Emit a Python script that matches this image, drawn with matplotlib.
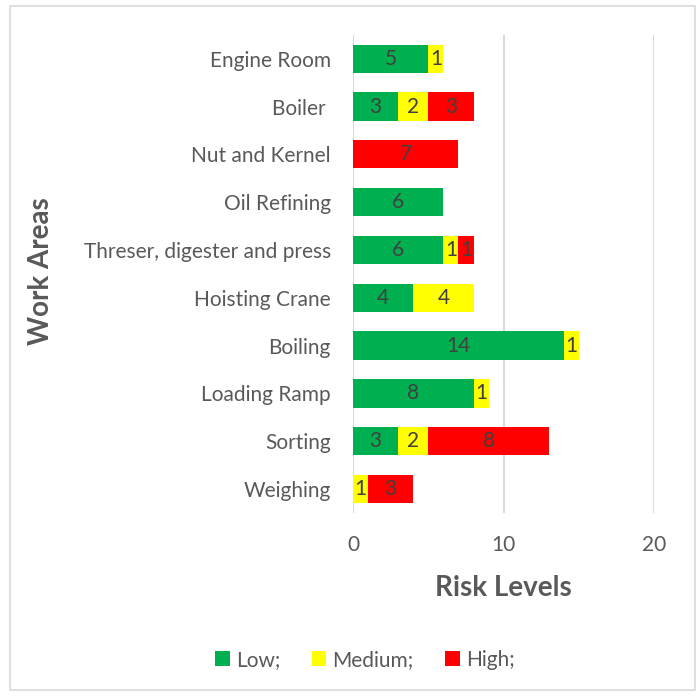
import numpy as np
import matplotlib
matplotlib.use("Agg")
import matplotlib.pyplot as plt
from matplotlib.patches import Rectangle

plt.rcParams["font.family"] = ["Lato", "DejaVu Sans"]

areas = ["Engine Room", "Boiler ", "Nut and Kernel", "Oil Refining",
         "Threser, digester and press", "Hoisting Crane", "Boiling",
         "Loading Ramp", "Sorting", "Weighing"]
low = [5, 3, 0, 6, 6, 4, 14, 8, 3, 0]
medium = [1, 2, 0, 0, 1, 4, 1, 1, 2, 1]
high = [0, 3, 7, 0, 1, 0, 0, 0, 8, 3]

series = [("Low;", low, "#00B050"),
          ("Medium;", medium, "#FFFF00"),
          ("High;", high, "#FF0000")]

TEXT = "#595959"

fig = plt.figure(figsize=(6.99, 6.96), dpi=100)
fig.patches.append(Rectangle((0.014, 0.008), 0.98, 0.984, transform=fig.transFigure,
                             fill=False, edgecolor="#D9D9D9", lw=1.2))
ax = fig.add_axes([0.505, 0.263, 0.431, 0.687])

y = np.arange(len(areas))
left = np.zeros(len(areas))
for name, vals, color in series:
    vals = np.array(vals)
    bars = ax.barh(y, vals, left=left, height=0.59, color=color, label=name, zorder=3)
    for b, v in zip(bars, vals):
        if v > 0:
            ax.text(b.get_x() + b.get_width() / 2, b.get_y() + b.get_height() / 2, str(v),
                    ha="center", va="center", fontsize=15, color="#404040", zorder=4)
    left += vals

ax.set_xlim(0, 20)
ax.set_ylim(len(areas) - 0.5, -0.5)
ax.set_xticks([0, 10, 20])
ax.set_yticks(y)
ax.set_yticklabels(areas)
ax.tick_params(axis="both", length=0, labelsize=15, labelcolor=TEXT)
ax.tick_params(axis="x", pad=16)
ax.tick_params(axis="y", pad=16)
ax.grid(axis="x", color="#D9D9D9", lw=1.5, zorder=0)
for s in ax.spines.values():
    s.set_visible(False)

ax.set_xlabel("Risk Levels", fontsize=20, fontweight="bold", color=TEXT, labelpad=14)
fig.text(0.058, 0.61, "Work Areas", rotation=90, ha="center", va="center",
         fontsize=20, fontweight="bold", color=TEXT)

fig.legend(loc="center", bbox_to_anchor=(0.522, 0.052), ncol=3, frameon=False,
           fontsize=15, labelcolor=TEXT, handlelength=0.7, handleheight=0.7,
           handletextpad=0.3, columnspacing=1.5)

fig.savefig("out.png", dpi=100)
